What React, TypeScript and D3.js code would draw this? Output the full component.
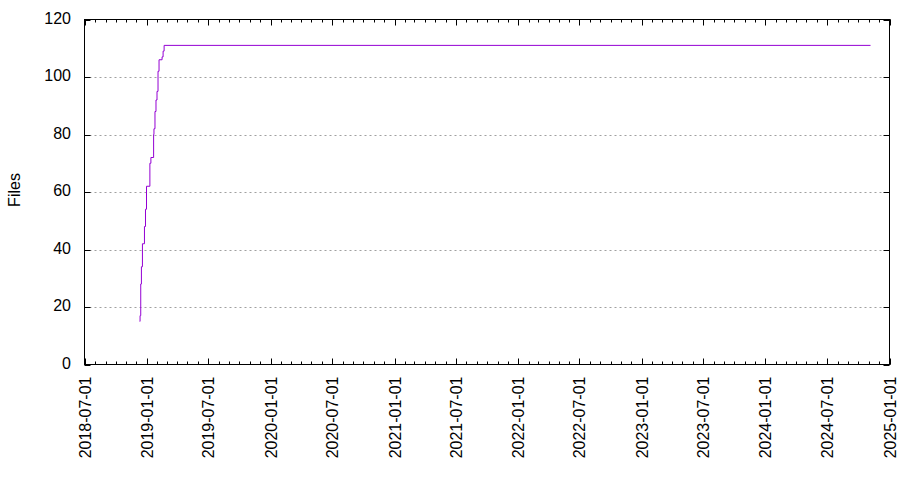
import React from "react";
import * as d3 from "d3";

const stepDates = [
  "2018-12-11", "2018-12-12", "2018-12-14", "2018-12-16", "2018-12-19", "2018-12-25",
  "2018-12-28", "2018-12-31", "2019-01-10", "2019-01-13", "2019-01-21", "2019-01-22",
  "2019-01-25", "2019-01-28", "2019-01-31", "2019-02-03", "2019-02-06", "2019-02-15",
  "2019-02-18", "2019-02-21", "2024-11-06",
];
const fileCounts = [
  15, 17, 28, 34, 42, 48,
  54, 62, 70, 72, 80, 82,
  88, 92, 95, 102, 106, 107,
  109, 111, 111,
];
const yTicks = [0, 20, 40, 60, 80, 100, 120];
const xDomain = ["2018-07-01", "2025-01-01"];
const yLabel = "Files";

const W = 920, H = 480;
const M = { left: 84.5, right: 889.5, top: 19.5, bottom: 364.5 };
const FONT = "'Liberation Sans', Arial, sans-serif";
const FS = 16;

export default function App() {
  const parse = d3.utcParse("%Y-%m-%d");
  const fmt = d3.utcFormat("%Y-%m-%d");
  const x = d3.scaleUtc().domain(xDomain.map((d) => parse(d) as Date)).range([M.left, M.right]);
  const y = d3.scaleLinear().domain([0, 120]).range([M.bottom, M.top]);
  const data = stepDates.map((d, i) => ({ date: parse(d) as Date, v: fileCounts[i] }));
  const line = d3.line<{ date: Date; v: number }>()
    .x((d) => x(d.date))
    .y((d) => y(d.v))
    .curve(d3.curveStepAfter);
  const majors = d3.utcMonth.every(6)!.range(x.domain()[0], d3.utcDay.offset(x.domain()[1], 1));
  const minors = d3.utcMonth.range(x.domain()[0], d3.utcDay.offset(x.domain()[1], 1));
  const maj = 6, mnr = 3;
  return (
    <svg width={W} height={H} style={{ position: "absolute", left: 0, top: 0, background: "#fff" }}>
      {yTicks.filter((t) => t > 0 && t < 120).map((t) => (
        <line key={"g" + t} x1={M.left} x2={M.right} y1={Math.round(y(t)) + 0.5} y2={Math.round(y(t)) + 0.5}
          stroke="#a0a0a0" strokeWidth={1} strokeDasharray="2,3" />
      ))}
      {yTicks.map((t) => {
        const yy = Math.round(y(t)) + 0.5;
        return (
          <g key={"y" + t}>
            <line x1={M.left} x2={M.left + maj} y1={yy} y2={yy} stroke="#000" />
            <line x1={M.right} x2={M.right - maj} y1={yy} y2={yy} stroke="#000" />
            <text x={71} y={yy - 2} dy="0.35em" textAnchor="end" fontFamily={FONT} fontSize={FS} fill="#000">{t}</text>
          </g>
        );
      })}
      {minors.map((d) => {
        const xx = Math.round(x(d)) + 0.5;
        return (
          <g key={"m" + d.getTime()}>
            <line x1={xx} x2={xx} y1={M.bottom} y2={M.bottom - mnr} stroke="#000" />
            <line x1={xx} x2={xx} y1={M.top} y2={M.top + mnr} stroke="#000" />
          </g>
        );
      })}
      {majors.map((d) => {
        const xx = Math.round(x(d)) + 0.5;
        return (
          <g key={"M" + d.getTime()}>
            <line x1={xx} x2={xx} y1={M.bottom} y2={M.bottom - maj} stroke="#000" />
            <line x1={xx} x2={xx} y1={M.top} y2={M.top + maj} stroke="#000" />
            <text transform={`translate(${xx},${M.bottom + 12}) rotate(-90)`} dy="0.35em" textAnchor="end"
              fontFamily={FONT} fontSize={FS} fill="#000">{fmt(d)}</text>
          </g>
        );
      })}
      <path d={line(data) ?? ""} fill="none" stroke="#9400d3" strokeWidth={1} />
      <rect x={M.left} y={M.top} width={M.right - M.left} height={M.bottom - M.top} fill="none" stroke="#000" strokeWidth={1} />
      <text transform={`translate(14,${(M.top + M.bottom) / 2 - 2}) rotate(-90)`} dy="0.35em" textAnchor="middle"
        fontFamily={FONT} fontSize={FS} fill="#000">{yLabel}</text>
    </svg>
  );
}
